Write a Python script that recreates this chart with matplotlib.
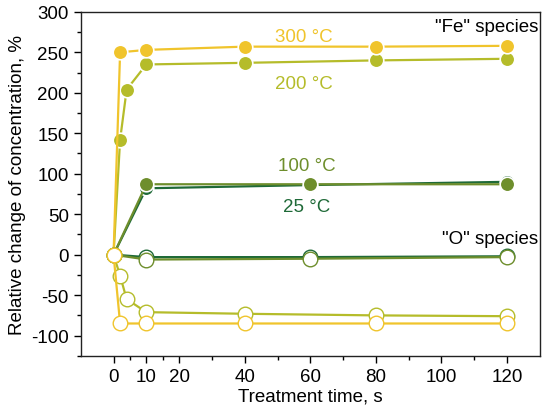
import matplotlib.pyplot as plt

plt.rcParams['font.family'] = ['Liberation Sans', 'DejaVu Sans']
plt.rcParams['axes.unicode_minus'] = False

# treatment times, s
t_fast = [0, 2, 4, 10, 40, 80, 120]
t_300 = [0, 2, 10, 40, 80, 120]
t_slow = [0, 10, 60, 120]

# "Fe" species, %
fe_300 = [0, 250, 253, 257, 257, 258]
fe_200 = [0, 142, 204, 235, 237, 240, 242]
fe_100 = [0, 87, 87, 87]
fe_25 = [0, 82, 86, 90]

# "O" species, %
o_300 = [0, -85, -85, -85, -85, -85]
o_200 = [0, -26, -55, -71, -73, -75, -76]
o_100 = [0, -6, -5, -3]
o_25 = [0, -3, -3, -2]

c300 = '#f0c42c'
c200 = '#b5bc2a'
c100 = '#6e8e2c'
c25 = '#1f6a38'

fig = plt.figure(figsize=(5.42, 4.14), dpi=100)
ax = fig.add_axes([0.149, 0.138, 0.847, 0.831])

def fe(x, y, c):
    # the shared starting point is shown only as the open "O" marker
    ax.plot(x, y, '-o', color=c, lw=1.6, ms=10.5, mfc=c, mec='white', mew=1.2,
            markevery=slice(1, None))

def ox(x, y, c):
    ax.plot(x, y, '-o', color=c, lw=1.6, ms=10.5, mfc='white', mec=c, mew=1.0)

fe(t_slow, fe_25, c25)
fe(t_slow, fe_100, c100)
fe(t_fast, fe_200, c200)
fe(t_300, fe_300, c300)
ox(t_slow, o_25, c25)
ox(t_slow, o_100, c100)
ox(t_fast, o_200, c200)
ox(t_300, o_300, c300)

fs = 13.5
ax.text(58, 270, '300 °C', color=c300, fontsize=fs, ha='center', va='center')
ax.text(58, 212, '200 °C', color=c200, fontsize=fs, ha='center', va='center')
ax.text(59, 110, '100 °C', color=c100, fontsize=fs, ha='center', va='center')
ax.text(59, 60, '25 °C', color=c25, fontsize=fs, ha='center', va='center')
ax.text(129.5, 282, '"Fe" species', fontsize=fs, ha='right', va='center')
ax.text(129.5, 20, '"O" species', fontsize=fs, ha='right', va='center')

ax.set_xlim(-10, 130)
ax.set_ylim(-125, 300)
ax.set_xticks([0, 10, 20, 40, 60, 80, 100, 120])
ax.set_xticks([5, 15, 30, 50, 70, 90, 110], minor=True)
ax.set_yticks(range(-100, 301, 50))
ax.set_yticks(range(-125, 300, 50), minor=True)
ax.tick_params(labelsize=fs, direction='out', length=5, width=1)
ax.tick_params(which='minor', direction='out', length=3, width=1)
ax.tick_params(top=False, right=False, which='both')
for s in ax.spines.values():
    s.set_linewidth(1)
    s.set_color('#222222')

ax.set_xlabel('Treatment time, s', fontsize=fs, labelpad=2)
ax.set_ylabel('Relative change of concentration, %', fontsize=fs, labelpad=4)

fig.savefig('out.png', dpi=100)
